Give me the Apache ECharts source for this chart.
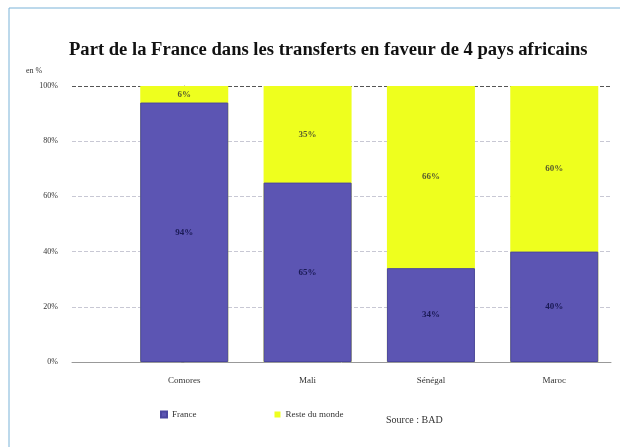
<!DOCTYPE html>
<html>
<head>
<meta charset="utf-8">
<script src="https://cdn.jsdelivr.net/npm/echarts@6/dist/echarts.min.js"></script>
<style>
html,body{margin:0;padding:0;background:#fff;}
#c{width:620px;height:447px;}
</style>
</head>
<body>
<div id="c"></div>
<script>
const categories = ['Comores', 'Mali', 'Sénégal', 'Maroc'];
const franceValues = [94, 65, 34, 40];
const resteValues = [6, 35, 66, 60];
const yTicks = ['0%', '20%', '40%', '60%', '80%', '100%'];
const seriesNames = ['France', 'Reste du monde'];

const chart = echarts.init(document.getElementById('c'), null, {renderer: 'canvas'});
const serif = '"Liberation Serif", "DejaVu Serif", serif';
const PURPLE = '#5c55b3';
const YELLOW = '#eeff1e';
const GRIDC = '#c8c8d4';

const totalPts = franceValues.map((f, i) => [i, f + resteValues[i]]);
const francePts = franceValues.map((f, i) => [i, f]);
const resteLabelPts = resteValues.map((r, i) => ({value: [i, franceValues[i] + r / 2], r: r}));

chart.setOption({
  animation: false,
  backgroundColor: '#ffffff',
  title: {
    text: 'Part de la France dans les transferts en faveur de 4 pays africains',
    left: 64,
    top: 36,
    textStyle: {fontFamily: serif, fontWeight: 'bold', fontSize: 18.6, color: '#111'}
  },
  legend: {
    left: 155,
    top: 405,
    icon: 'rect',
    itemWidth: 6,
    itemHeight: 6,
    itemGap: 78,
    textStyle: {fontFamily: serif, fontSize: 9, color: '#333'},
    data: [
      {name: seriesNames[0], itemStyle: {color: PURPLE}},
      {name: seriesNames[1], itemStyle: {color: YELLOW}}
    ]
  },
  grid: {left: 72, right: 9, top: 86, bottom: 85},
  xAxis: {
    type: 'value',
    min: -0.91,
    max: 3.46,
    splitLine: {show: false},
    axisTick: {show: false},
    axisLine: {show: true, lineStyle: {color: '#999'}},
    axisLabel: {
      customValues: [0, 1, 2, 3],
      formatter: v => categories[Math.round(v)] || '',
      fontFamily: serif, fontSize: 9, color: '#333', margin: 14
    }
  },
  yAxis: {
    type: 'value',
    min: 0,
    max: 100,
    interval: 20,
    axisLine: {show: true, lineStyle: {color: '#888'}},
    axisTick: {show: true, length: 3, lineStyle: {color: '#888'}},
    axisLabel: {
      formatter: v => yTicks[v / 20],
      fontFamily: serif, fontSize: 8, color: '#333', margin: 14
    },
    splitLine: {show: true, lineStyle: {color: [GRIDC, GRIDC, GRIDC, GRIDC, GRIDC, '#555'], type: 'dashed'}}
  },
  graphic: [
    {type: 'rect', shape: {x: 9, y: 8, width: 640, height: 460}, style: {fill: 'none', stroke: '#7ab3d8', lineWidth: 1}, silent: true},
    {type: 'text', left: 26, top: 67, style: {text: 'en %', font: '8px ' + serif, fill: '#333'}},
    {type: 'text', left: 386, top: 415, style: {text: 'Source : BAD', font: '10px ' + serif, fill: '#333'}}
  ],
  series: [
    {
      name: seriesNames[1],
      type: 'bar',
      barWidth: 88,
      barGap: '-100%',
      data: totalPts,
      itemStyle: {color: YELLOW},
      z: 1
    },
    {
      name: seriesNames[0],
      type: 'bar',
      barWidth: 88,
      barGap: '-100%',
      data: francePts,
      itemStyle: {color: PURPLE, borderColor: '#4a46a0', borderWidth: 1},
      label: {show: true, position: 'inside', formatter: p => p.value[1] + '%', fontFamily: serif, fontSize: 9, fontWeight: 'bold', color: '#1a1a55'},
      z: 2
    },
    {
      name: 'labels',
      type: 'scatter',
      symbolSize: 0,
      data: resteLabelPts,
      label: {show: true, position: 'inside', formatter: p => p.data.r + '%', fontFamily: serif, fontSize: 9, fontWeight: 'bold', color: '#333'},
      z: 3,
      silent: true
    }
  ]
});
</script>
</body>
</html>
